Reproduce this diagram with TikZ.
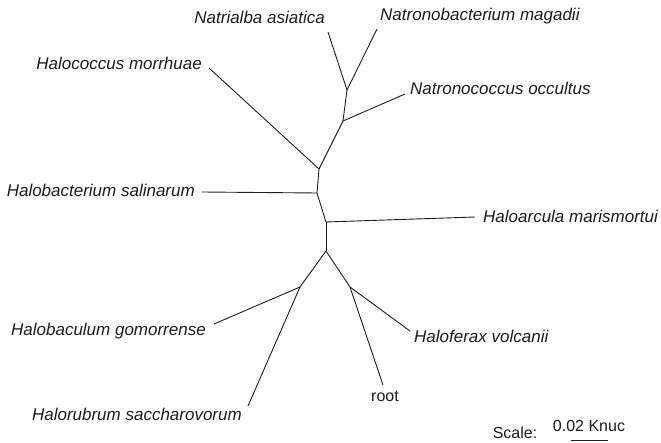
\documentclass[tikz,border=0pt]{standalone}
\usepackage{fontspec}
\setmainfont{Liberation Sans}
\definecolor{treeink}{RGB}{28,28,28}

\begin{document}
\begin{tikzpicture}[
    x=1pt, y=-1pt,
    branch/.style={draw=treeink, line width=0.9pt},
    taxon/.style={inner sep=0pt, text=treeink, font=\fontsize{17}{19}\selectfont\itshape},
    plain/.style={inner sep=0pt, text=treeink, font=\fontsize{16}{18}\selectfont}
  ]
    \useasboundingbox (0,0) rectangle (661,443);

    % branch points
    \coordinate (j1) at (347,90);
    \coordinate (j2) at (343,121);
    \coordinate (j3) at (319,169);
    \coordinate (j4) at (317,193);
    \coordinate (j5) at (326,222);
    \coordinate (j6) at (326,251);
    \coordinate (j7) at (300,287);
    \coordinate (j8) at (350,287);

    % leaf ends
    \coordinate (natrialba) at (328,32);
    \coordinate (natronobac) at (377,29);
    \coordinate (natronococ) at (405,94);
    \coordinate (halococ) at (209,68);
    \coordinate (halobac) at (202,192);
    \coordinate (haloarc) at (475,217);
    \coordinate (halobacul) at (214,324);
    \coordinate (haloferax) at (410,331);
    \coordinate (rootend) at (383,385);
    \coordinate (halorub) at (248,406);

    \node[taxon, anchor=east] (lnatrialba) at (325,17) {Natrialba asiatica};
    \node[taxon, anchor=west] (lnatronobac) at (380,16) {Natronobacterium magadii};
    \node[taxon, anchor=west] (lnatronococ) at (410,88) {Natronococcus occultus};
    \node[taxon, anchor=east] (lhalococ) at (202,63) {Halococcus morrhuae};
    \node[taxon, anchor=east] (lhalobac) at (195,190) {Halobacterium salinarum};
    \node[taxon, anchor=west] (lhaloarc) at (483,216) {Haloarcula marismortui};
    \node[taxon, anchor=east] (lhalobacul) at (206,331) {Halobaculum gomorrense};
    \node[taxon, anchor=west] (lhaloferax) at (414,336) {Haloferax volcanii};
    \node[plain] (lroot) at (385,396) {root};
    \node[taxon, anchor=east] (lhalorub) at (242,414) {Halorubrum saccharovorum};

    \foreach \a/\b in {j1/natrialba, j1/natronobac, j2/j1, j2/natronococ, j3/j2, j3/halococ,
                       j4/j3, j4/halobac, j5/j4, j5/haloarc, j6/j5, j6/j7, j6/j8,
                       j7/halobacul, j7/halorub, j8/haloferax, j8/rootend}
      \draw[branch] (\a) -- (\b);

    % scale bar
    \node[plain] (lscale) at (515,433) {Scale:};
    \node[plain] (lknuc) at (589,426) {0.02 Knuc};
    \coordinate (barL) at (571,440);
    \coordinate (barR) at (608,440);
    \draw[branch, line width=0.7pt] (barL) -- (barR);
  \end{tikzpicture}
\end{document}
